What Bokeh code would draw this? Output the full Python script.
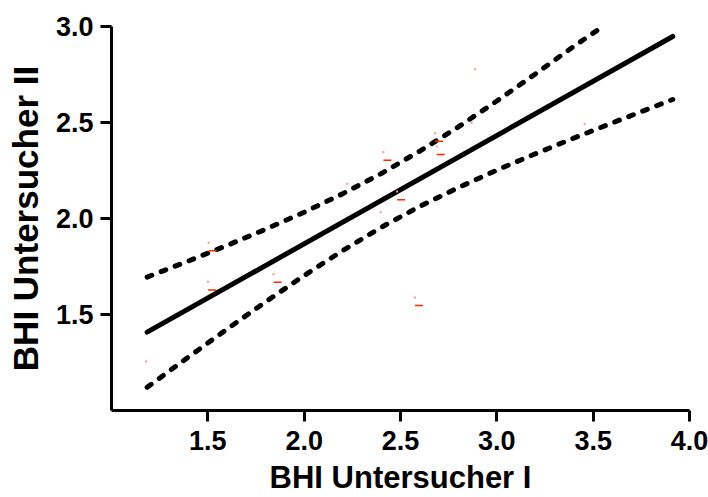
from bokeh.plotting import figure
from bokeh.models import Range1d, FixedTicker, ColumnDataSource
from bokeh.transform import dodge
from bokeh.embed import file_html
from bokeh.resources import INLINE

# ---- data ----
x_ticks = [1.5, 2.0, 2.5, 3.0, 3.5, 4.0]
x_tick_labels = ["1.5", "2.0", "2.5", "3.0", "3.5", "4.0"]
y_ticks = [1.5, 2.0, 2.5, 3.0]
y_tick_labels = ["1.5", "2.0", "2.5", "3.0"]

x_title = "BHI Untersucher I"
y_title = "BHI Untersucher II"

# regression line
fit_x = [1.185, 3.913]
fit_y = [1.408, 2.948]

# confidence band (upper / lower)
upper_x = [1.185, 1.4, 1.6, 1.8, 2.0, 2.2, 2.4, 2.6, 2.8, 3.0, 3.2, 3.4, 3.55]
upper_y = [1.695, 1.779, 1.860, 1.944, 2.033, 2.129, 2.234, 2.351, 2.477, 2.612, 2.753, 2.897, 3.0]
lower_x = [1.185, 1.4, 1.6, 1.8, 2.0, 2.2, 2.4, 2.6, 2.8, 3.0, 3.2, 3.4, 3.6, 3.8, 3.913]
lower_y = [1.121, 1.279, 1.424, 1.566, 1.703, 1.833, 1.954, 2.063, 2.161, 2.252, 2.337, 2.419, 2.498, 2.576, 2.620]

# individual observations (tiny red markers)
pts_x = [1.180, 1.504, 1.501, 1.841, 2.224, 2.411, 2.397, 2.482, 2.679, 2.688, 2.575, 2.886, 2.869, 3.456, 3.910]
pts_y = [1.255, 1.874, 1.670, 1.710, 2.181, 2.346, 2.033, 2.140, 2.444, 2.375, 1.589, 2.777, 2.499, 2.492, 3.035]
dash_visible = [0, 1, 1, 1, 0, 1, 0, 1, 1, 1, 1, 0, 0, 0, 0]

FONT = "Liberation Sans"

p = figure(width=708, height=497, output_backend="svg", toolbar_location=None,
           x_range=Range1d(1.0, 4.0), y_range=Range1d(1.0, 3.0),
           min_border_left=111, min_border_right=19, min_border_top=26, min_border_bottom=87)
p.outline_line_color = None
p.grid.visible = False
p.background_fill_color = "white"
p.border_fill_color = "white"

for ax, ticks, labels, title in ((p.xaxis[0], x_ticks, x_tick_labels, x_title),
                                 (p.yaxis[0], y_ticks, y_tick_labels, y_title)):
    ax.ticker = FixedTicker(ticks=ticks)
    ax.major_label_overrides = {t: l for t, l in zip(ticks, labels)}
    ax.axis_label = title
    ax.axis_label_text_font = FONT
    ax.axis_label_text_font_style = "bold"
    ax.axis_label_text_color = "black"
    ax.major_label_text_font = FONT
    ax.major_label_text_font_style = "bold"
    ax.major_label_text_font_size = "27px"
    ax.major_label_text_color = "black"
    ax.axis_line_width = 3
    ax.axis_line_color = "black"
    ax.major_tick_line_width = 3
    ax.major_tick_line_color = "black"
    ax.major_tick_out = 11
    ax.major_tick_in = 0
    ax.minor_tick_line_color = None
    ax.major_label_standoff = 7
    ax.axis_label_standoff = 8

p.xaxis[0].axis_label_text_font_size = "31px"
p.xaxis[0].major_label_standoff = 9
p.xaxis[0].axis_label_standoff = 7
p.yaxis[0].axis_label_text_font_size = "35px"

# regression line and confidence band
p.line(fit_x, fit_y, line_color="black", line_width=5, line_cap="round")
p.line(upper_x, upper_y, line_color="black", line_width=5, line_dash="5 10", line_cap="round")
p.line(lower_x, lower_y, line_color="black", line_width=5, line_dash="5 10", line_cap="round")

# observations
src = ColumnDataSource(dict(x=pts_x, y=pts_y, a=[float(v) for v in dash_visible]))
p.scatter("x", "y", source=src, marker="square", size=2, line_color=None,
          fill_color="#f39a8a")
p.scatter(dodge("x", 0.021, range=p.x_range), dodge("y", -0.042, range=p.y_range),
          source=src, marker="dash", size=8, line_color="#ff2a00", line_width=1.5,
          line_alpha="a")

open("out.html", "w").write(file_html(p, INLINE))
